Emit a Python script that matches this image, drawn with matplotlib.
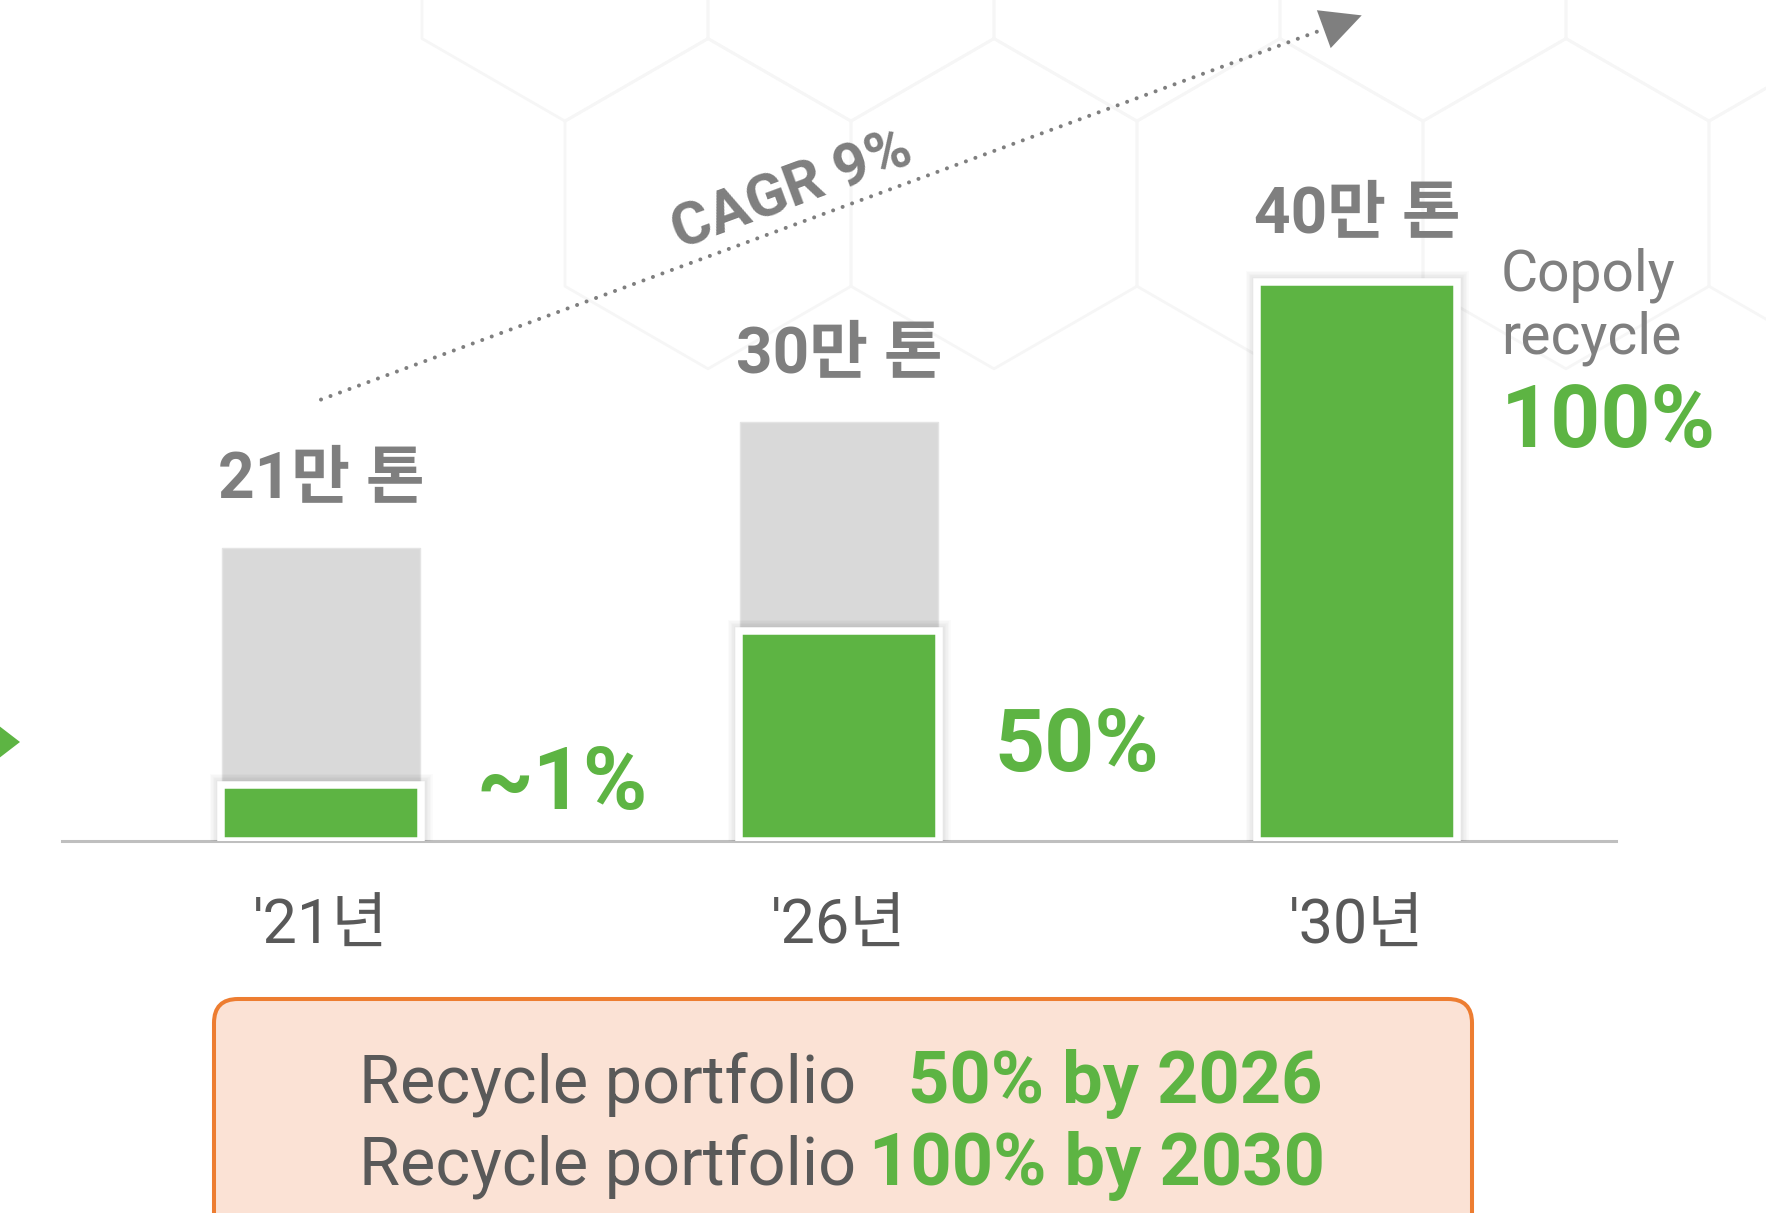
import numpy as np
import matplotlib
matplotlib.use("Agg")
import matplotlib.pyplot as plt
from matplotlib.patches import FancyBboxPatch, Polygon

# ---------------- data ----------------
years = ["'21년", "'26년", "'30년"]
total_capacity = [21, 30, 40]            # 만 톤
recycle_drawn = [4, 15, 40]              # recycle portion as drawn
value_labels = ["21만 톤", "30만 톤", "40만 톤"]
pct_labels = ["~1%", "50%"]
pct_label_y = [2.3, 5.0]
side_label = ["Copoly", "recycle"]
side_pct = "100%"
cagr_label = "CAGR 9%"
box_gray = ["Recycle portfolio", "Recycle portfolio"]
box_green = ["50% by 2026", "100% by 2030"]

GREEN = "#5DB443"
GREY_BAR = "#D9D9D9"
GREY_TXT = "#7F7F7F"
DARK_TXT = "#595959"
KR = ["Roboto", "Noto Sans CJK KR"]

W, H = 1766, 1213
fig = plt.figure(figsize=(W / 100, H / 100), dpi=100)
fig.patch.set_facecolor("white")

# background overlay axes in pixel coordinates
bg = fig.add_axes([0, 0, 1, 1], zorder=0)
bg.set_xlim(0, W)
bg.set_ylim(H, 0)
bg.axis("off")

# very faint hexagon pattern at the top
R = 286 / np.sqrt(3)
ang = np.deg2rad(np.arange(30, 391, 60))
for row in range(-1, 2):
    cy = -44 + row * 1.5 * R
    off = 0 if row % 2 == 0 else 143
    for k in range(-3, 6):
        cx = 565 + off + k * 286
        if cx < 560:
            continue
        xs = cx + R * np.cos(ang)
        ys = cy + R * np.sin(ang)
        bg.plot(xs, ys, color="#F6F6F6", lw=2, zorder=0)

# green arrow tip at far left
bg.add_patch(Polygon([[-6, 722], [20, 742], [-6, 762]], closed=True,
                     facecolor=GREEN, edgecolor="none"))

# bottom callout box
bg.add_patch(FancyBboxPatch((214, 999), 1472 - 214, 260,
                            boxstyle="round,pad=0,rounding_size=24",
                            facecolor="#FBE2D5", edgecolor="#ED7D31", lw=2.9,
                            zorder=1))
for i, (g, gr) in enumerate(zip(box_gray, box_green)):
    yb = [1103, 1185][i]
    xg = [908, 869][i]
    bg.text(856, yb, g, ha="right", va="baseline", fontsize=48,
            color=DARK_TXT, family="Roboto", zorder=2)
    bg.text(xg, yb, gr, ha="left", va="baseline", fontsize=52,
            color=GREEN, family="Roboto", fontweight="bold", zorder=2)

# ---------------- main axes ----------------
base_px = 841
ax = fig.add_axes([62 / W, (H - base_px) / H, (1616 - 62) / W, base_px / H], zorder=1)
ax.patch.set_alpha(0)
x = np.arange(len(years))
ax.set_xlim(-0.5, 2.5)
ax.set_ylim(0, base_px / 13.97)

for s in ["top", "right", "left"]:
    ax.spines[s].set_visible(False)
ax.spines["bottom"].set_color("#BFBFBF")
ax.spines["bottom"].set_linewidth(2.2)
ax.spines["bottom"].set_zorder(0)
ax.set_yticks([])
ax.set_xticks(x, labels=years, va="baseline", fontsize=44, color=DARK_TXT,
              family=KR)
ax.tick_params(axis="x", length=0, pad=74)

bw = 0.382
ax.bar(x, total_capacity, width=bw, color=GREY_BAR, edgecolor="#E4E4E4",
       lw=1, zorder=2)
# soft shadow under green bars
for k in range(1, 6):
    ax.bar(x, recycle_drawn, width=bw + 0.003, color="none",
           edgecolor=(0, 0, 0, 0.018), lw=5.4 + 2.2 * k, zorder=2.5)
ax.bar(x, recycle_drawn, width=bw + 0.003, color=GREEN, edgecolor="white",
       lw=5.4, zorder=3)

for xi, tot, lab in zip(x, total_capacity, value_labels):
    ax.annotate(lab, (xi, tot), xytext=(0, 36), textcoords="offset points",
                ha="center", va="baseline", fontsize=46, fontweight="bold",
                color=GREY_TXT, family=KR)

for xi, lab, yy in zip(x[:2], pct_labels, pct_label_y):
    ax.text(xi + 0.30, yy, lab, ha="left", va="baseline", fontsize=63,
            fontweight="bold", color=GREEN, family="Roboto")

ax.text(2.278, 39.4, side_label[0], ha="left", va="baseline", fontsize=41,
        color=GREY_TXT, family="Roboto")
ax.text(2.278, 34.9, side_label[1], ha="left", va="baseline", fontsize=41,
        color=GREY_TXT, family="Roboto")
ax.text(2.278, 28.2, side_pct, ha="left", va="baseline", fontsize=63,
        fontweight="bold", color=GREEN, family="Roboto")

# CAGR dotted arrow
p0 = (0.0, 31.6)
p1 = (1.935, 58.1)
tip = (2.009, 59.1)
ax.plot([p0[0], p1[0]], [p0[1], p1[1]], color=GREY_TXT, lw=2.9,
        linestyle=(0, (0.01, 2.5)), dash_capstyle="round", zorder=4,
        clip_on=False)
ax.annotate("", xy=tip, xytext=p1,
            arrowprops=dict(arrowstyle="-|>,head_length=2.9,head_width=1.45",
                            color=GREY_TXT, lw=0.01, shrinkA=0, shrinkB=0),
            annotation_clip=False, zorder=4)
fig.canvas.draw()
d0 = ax.transData.transform(p0)
d1 = ax.transData.transform(p1)
rot = np.degrees(np.arctan2(d1[1] - d0[1], d1[0] - d0[0]))
ax.text(0.909, 46.5, cagr_label, rotation=rot, rotation_mode="anchor",
        ha="center", va="center", fontsize=43, fontweight="bold",
        color=GREY_TXT, family="Roboto", zorder=4)

fig.savefig("out.png", dpi=100, facecolor="white")
